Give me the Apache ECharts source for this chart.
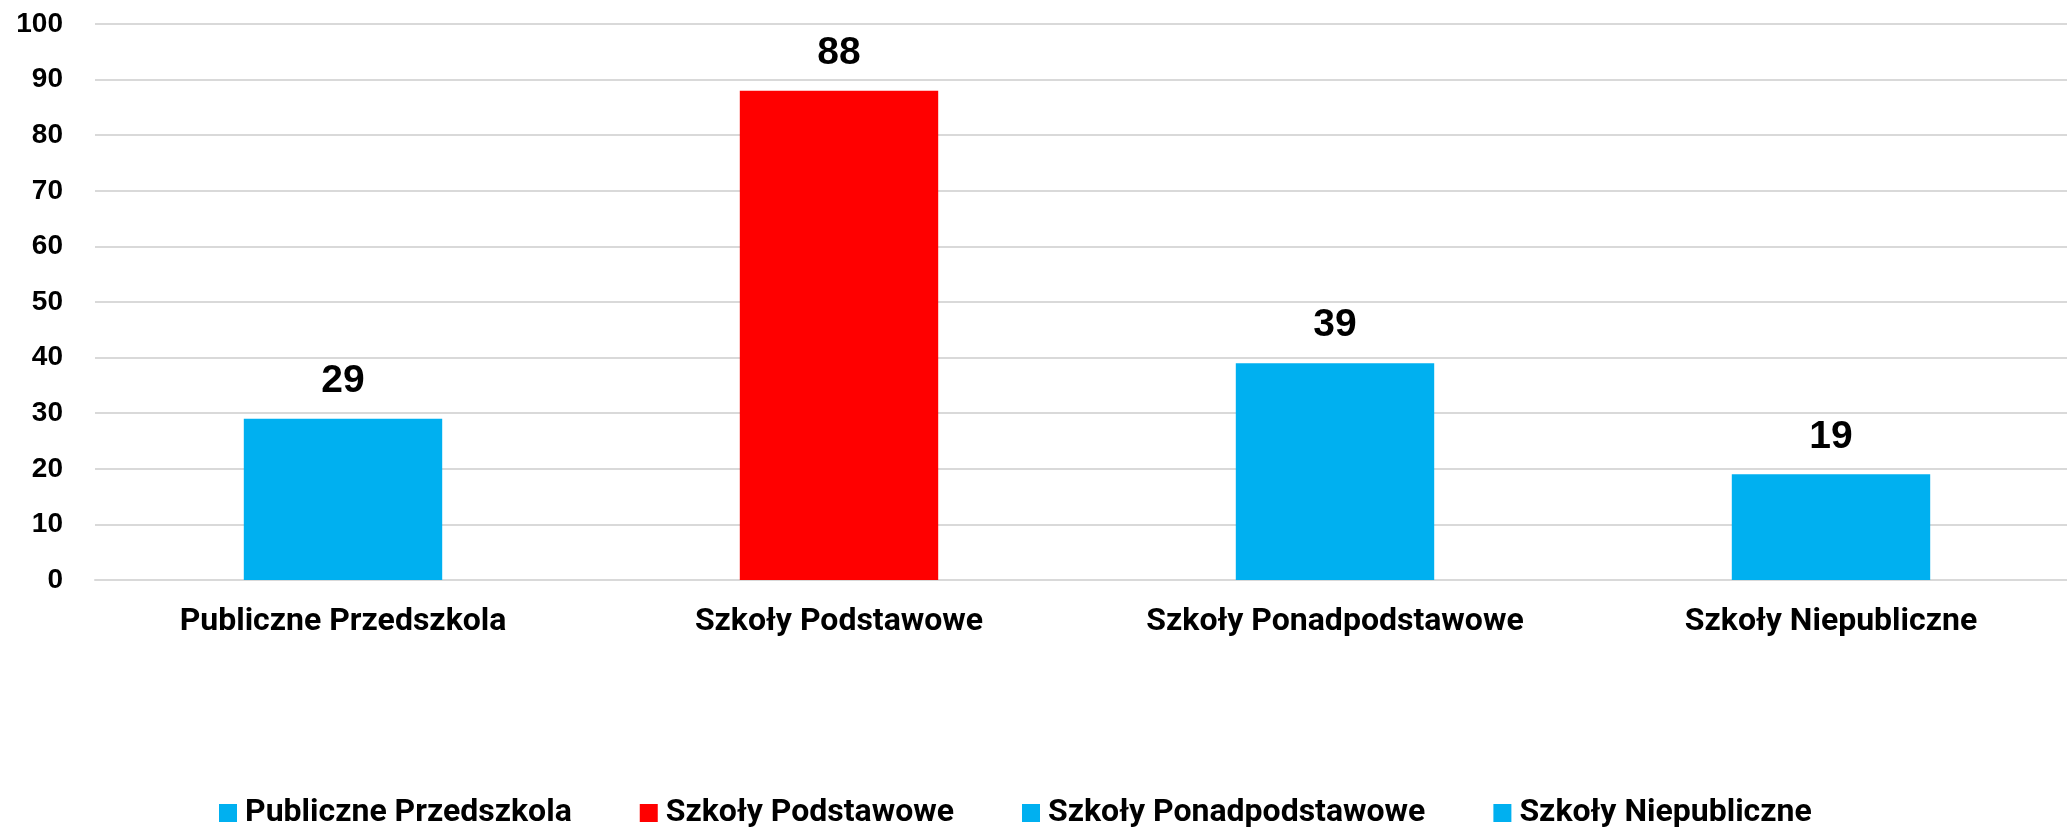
<!DOCTYPE html>
<html>
<head>
<meta charset="utf-8">
<script src="https://cdn.jsdelivr.net/npm/echarts@6/dist/echarts.min.js"></script>
<style>
  html, body { margin: 0; padding: 0; background: #fff; }
  #chart { width: 2067px; height: 831px; }
</style>
</head>
<body>
<div id="chart"></div>
<script>
const categories = ['Publiczne Przedszkola', 'Szkoły Podstawowe', 'Szkoły Ponadpodstawowe', 'Szkoły Niepubliczne']
const values = [29, 88, 39, 19]
const colors = ['#00B0F0', '#FF0000', '#00B0F0', '#00B0F0']
const yTicks = { min: 0, max: 100, interval: 10 }

const myChart = echarts.init(document.getElementById('chart'))

// one series per category so the legend gets one entry each
const series = categories.map((name, i) => ({
  name: name,
  type: 'bar',
  stack: 'all',
  barWidth: '40%',
  itemStyle: { color: colors[i] },
  label: {
    show: true,
    position: 'top',
    distance: 18,
    color: '#000',
    fontFamily: 'Liberation Sans',
    fontWeight: 'bold',
    fontSize: 39
  },
  data: values.map((v, j) => (j === i ? v : '-'))
}))

myChart.setOption({
  animation: false,
  legend: {
    top: 792,
    left: 214,
    itemWidth: 18,
    itemHeight: 18,
    itemGap: 68,
    icon: 'rect',
    textStyle: {
      fontFamily: 'Roboto',
      fontWeight: 'bold',
      fontSize: 32,
      color: '#000',
      padding: [0, 0, 0, 3]
    },
    data: categories
  },
  grid: {
    left: 95,
    top: 24,
    width: 1984,
    bottom: 251,
    outerBoundsMode: 'none',
    containLabel: false
  },
  xAxis: {
    type: 'category',
    data: categories,
    axisLine: { show: true, lineStyle: { color: '#d9d9d9', width: 2 } },
    axisTick: { show: false },
    axisLabel: {
      margin: 26,
      color: '#000',
      fontFamily: 'Roboto',
      fontWeight: 'bold',
      fontSize: 32,
      interval: 0
    }
  },
  yAxis: {
    type: 'value',
    min: yTicks.min,
    max: yTicks.max,
    interval: yTicks.interval,
    axisLine: { show: false },
    axisTick: { show: false },
    splitLine: { lineStyle: { color: '#d9d9d9', width: 2 } },
    axisLabel: {
      margin: 32,
      color: '#000',
      fontFamily: 'Liberation Sans',
      fontWeight: 'bold',
      fontSize: 28
    }
  },
  series: series
})
</script>
</body>
</html>
